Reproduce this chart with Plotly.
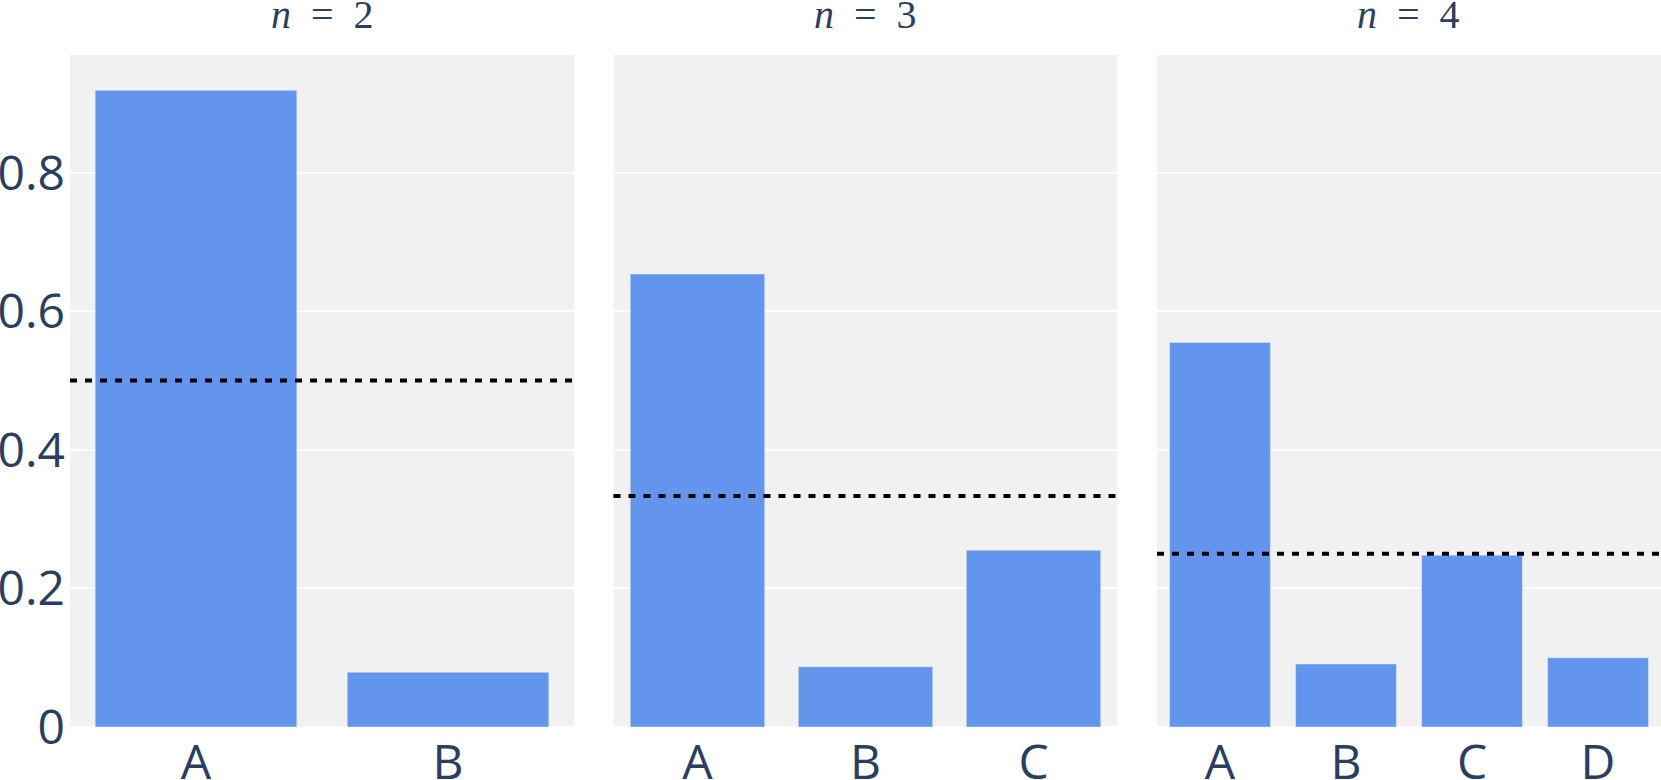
#!/usr/bin/env python3
"""
Bar chart of outcome probabilities for n = 2, 3, 4 choices,
with a dotted line marking the uniform 1/n level.
"""

import plotly.graph_objects as go
from plotly.subplots import make_subplots

# data
n_values = [2, 3, 4]
labels_n2 = ["A", "B"]
labels_n3 = ["A", "B", "C"]
labels_n4 = ["A", "B", "C", "D"]
probs_n2 = [0.919, 0.079]
probs_n3 = [0.654, 0.087, 0.255]
probs_n4 = [0.555, 0.091, 0.248, 0.100]
uniform_level = [0.5, 0.3333, 0.25]
y_ticks = [0, 0.2, 0.4, 0.6, 0.8]

BAR_COLOR = "cornflowerblue"
TEXT_COLOR = "#2a3f5f"

panels = [
    (labels_n2, probs_n2),
    (labels_n3, probs_n3),
    (labels_n4, probs_n4),
]

fig = make_subplots(
    rows=1, cols=3,
    shared_yaxes=True,
    horizontal_spacing=0.0248,
    subplot_titles=[f"<i>n</i>\u00a0\u00a0=\u00a0\u00a0{n}" for n in n_values],
)

for i, (cats, probs) in enumerate(panels):
    fig.add_trace(
        go.Bar(x=cats, y=probs, marker_color=BAR_COLOR, showlegend=False),
        row=1, col=i + 1
    )
    # dotted uniform reference line
    fig.add_hline(
        y=uniform_level[i],
        line=dict(color="black", width=4, dash="7px,8px"),
        row=1, col=i + 1
    )

fig.update_layout(
    width=1661,
    height=780,
    margin=dict(l=70, r=0, t=55, b=53),
    plot_bgcolor="rgb(241,241,241)",
    paper_bgcolor="white",
    font=dict(size=48, color=TEXT_COLOR),
    showlegend=False,
)

fig.update_yaxes(range=[0, 0.97], tickvals=y_ticks, automargin=False,
                 gridwidth=2, tickfont=dict(size=48), ticklabelstandoff=4)
fig.update_xaxes(automargin=False, tickfont=dict(size=48), ticklabelstandoff=3)

# subplot titles styled like math text
fig.update_annotations(
    font=dict(family="Liberation Serif", size=40, color=TEXT_COLOR),
    yshift=16,
)

# page without the default body margin so the figure fills the window
fig.write_html("out.html", config={"displayModeBar": False},
               post_script="document.body.style.margin='0px';")
